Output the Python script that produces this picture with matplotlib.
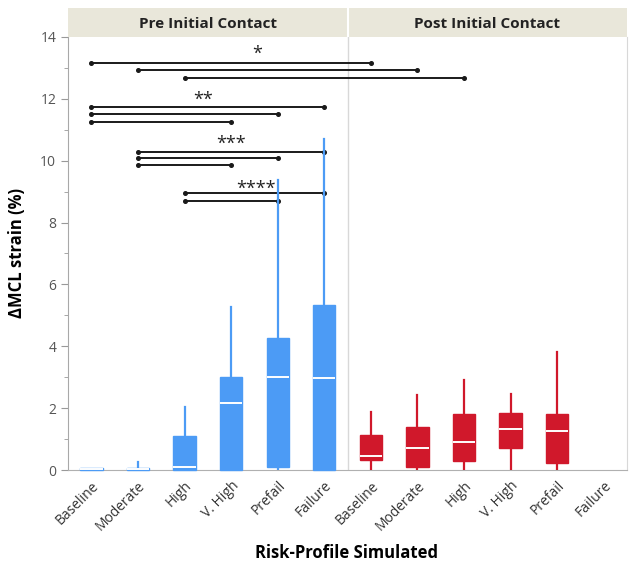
import matplotlib.pyplot as plt
from matplotlib.patches import Rectangle

plt.rcParams['font.family'] = ['Open Sans', 'DejaVu Sans']

categories = ["Baseline", "Moderate", "High", "V. High", "Prefail", "Failure"]
phases = ["Pre Initial Contact", "Post Initial Contact"]

# pre initial contact boxes
pre_q1 = [0.0, 0.0, 0.0, 0.0, 0.1, 0.0]
pre_med = [0.02, 0.03, 0.1, 2.17, 3.0, 2.97]
pre_q3 = [0.05, 0.08, 1.1, 3.0, 4.27, 5.33]
pre_lo = [0.0, 0.0, 0.0, 0.0, 0.0, 0.0]
pre_hi = [0.05, 0.27, 2.04, 5.27, 9.38, 10.7]

# post initial contact boxes (no Failure data)
post_q1 = [0.32, 0.1, 0.3, 0.7, 0.22]
post_med = [0.45, 0.72, 0.9, 1.33, 1.26]
post_q3 = [1.13, 1.4, 1.8, 1.83, 1.8]
post_lo = [0.0, 0.0, 0.0, 0.0, 0.0]
post_hi = [1.88, 2.42, 2.91, 2.45, 3.81]

# significance brackets: (from index, to index, level)
sig_lines = [(0, 6, 13.17), (1, 7, 12.92), (2, 8, 12.67),
             (0, 5, 11.75), (0, 4, 11.5), (0, 3, 11.26),
             (1, 5, 10.27), (1, 4, 10.07), (1, 3, 9.87),
             (2, 5, 8.95), (2, 4, 8.69)]
sig_labels = [("*", 3.56, 13.45), ("**", 2.39, 11.95), ("***", 2.99, 10.55), ("****", 3.54, 9.1)]

blue = "#4C9BF5"
red = "#D0182B"


def make_stats(q1, med, q3, lo, hi):
    return [dict(q1=a, med=b, q3=c, whislo=d, whishi=e, fliers=[])
            for a, b, c, d, e in zip(q1, med, q3, lo, hi)]


fig = plt.figure(figsize=(6.36, 5.68), dpi=100)
ax = fig.add_axes([0.107, 0.1725, 0.879, 0.7625])
hdr = fig.add_axes([0.107, 0.935, 0.879, 0.051])

for stats, pos, col in [(make_stats(pre_q1, pre_med, pre_q3, pre_lo, pre_hi), range(0, 6), blue),
                        (make_stats(post_q1, post_med, post_q3, post_lo, post_hi), range(6, 11), red)]:
    parts = ax.bxp(stats, positions=list(pos), widths=0.48, patch_artist=True, showcaps=False,
                   showfliers=False, manage_ticks=False,
                   boxprops=dict(facecolor=col, edgecolor=col, linewidth=1.0),
                   whiskerprops=dict(color=col, linewidth=1.6),
                   medianprops=dict(color="white", linewidth=1.4),
                   zorder=3)
    for b in parts["boxes"]:
        b.set_clip_on(False)

for x0, x1, y in sig_lines:
    ax.plot([x0, x1], [y, y], color="#1a1a1a", linewidth=1.4, marker="o", markersize=2.6, zorder=2)
for txt, x, y in sig_labels:
    ax.text(x, y, txt, ha="center", va="center", fontsize=13, color="#222222")

ax.axvline(5.5, color="#d8d8d8", linewidth=1, zorder=1)
ax.set_xlim(-0.5, 11.5)
ax.set_ylim(0, 14)
ax.set_xticks(range(12))
ax.set_xticklabels(categories + categories, rotation=45, ha="right", rotation_mode="anchor",
                   fontsize=10, color="#333333")
ax.tick_params(axis="x", length=0, pad=6)
ax.set_yticks(range(0, 15, 2))
ax.set_yticks(range(1, 15, 2), minor=True)
ax.tick_params(axis="y", which="major", length=5, color="#999999", labelcolor="#555555", labelsize=10)
ax.tick_params(axis="y", which="minor", length=3, color="#999999")
ax.spines["top"].set_visible(False)
ax.spines["left"].set_color("#a8a8a8")
ax.spines["bottom"].set_color("#b0b0b0")
ax.spines["right"].set_color("#d8d8d8")
ax.set_ylabel("ΔMCL strain (%)", fontsize=12, fontweight="bold", labelpad=10)
fig.text(0.545, 1 - 553 / 568, "Risk-Profile Simulated", ha="center", va="center",
         fontsize=12, fontweight="bold")

hdr.set_xlim(-0.5, 11.5)
hdr.set_ylim(0, 1)
hdr.add_patch(Rectangle((-0.5, 0), 12, 1, facecolor="#E9E7DA", edgecolor="none"))
hdr.axvline(5.5, color="#ffffff", linewidth=1.5)
for i, name in enumerate(phases):
    hdr.text(2.5 + 6 * i, 0.45, name, ha="center", va="center", fontsize=11, fontweight="bold",
             color="#222222")
hdr.axis("off")

fig.savefig("out.png", dpi=100)
